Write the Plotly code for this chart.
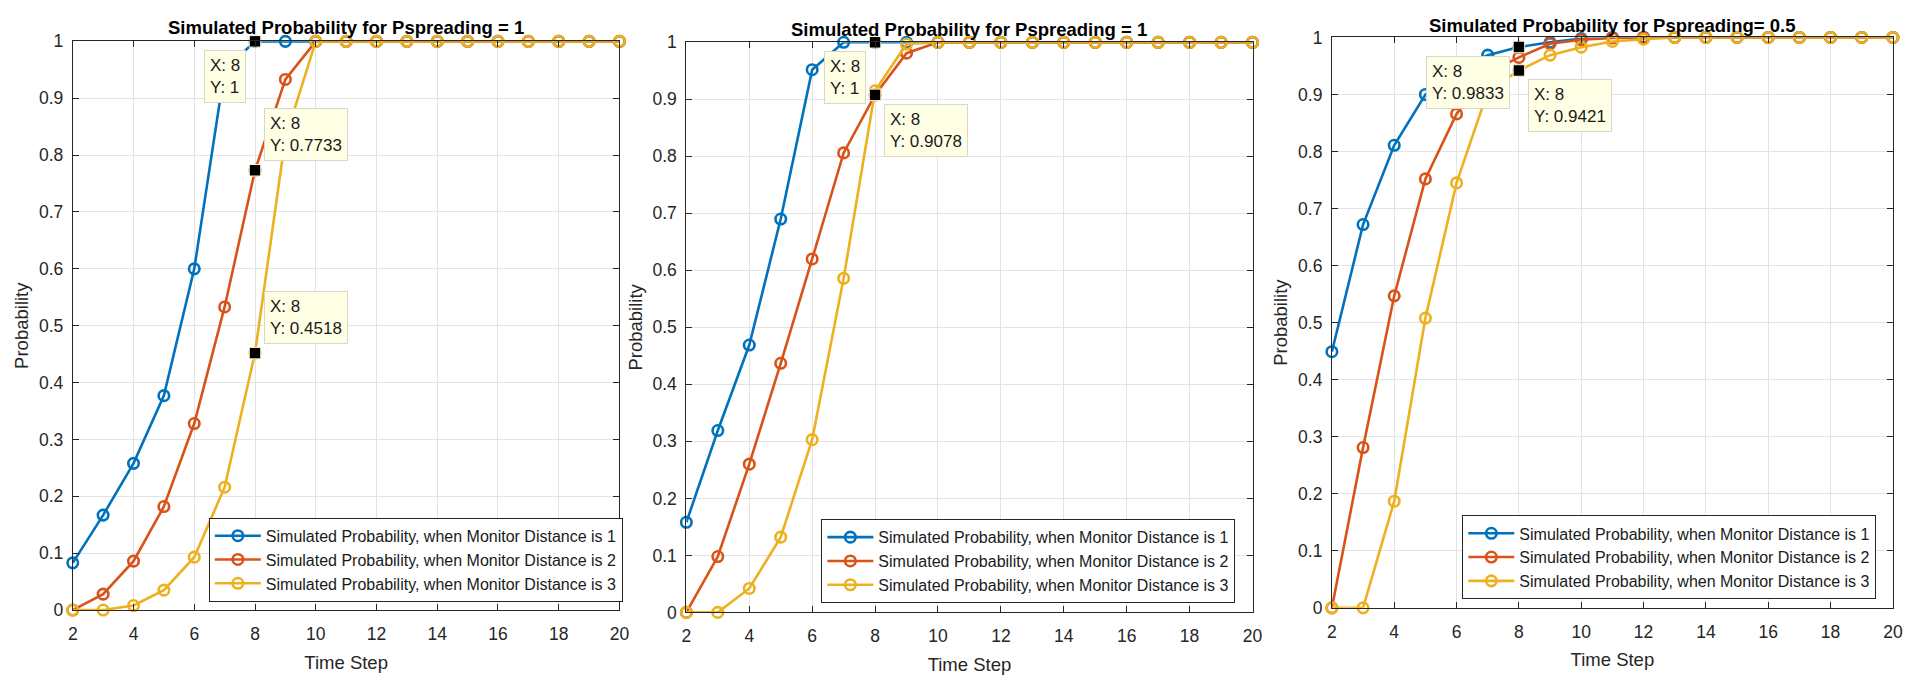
import plotly.graph_objects as go

# ---------------- data ----------------
x_steps = list(range(2, 21))
x_ticks = [2, 4, 6, 8, 10, 12, 14, 16, 18, 20]
y_ticks = [0, 0.1, 0.2, 0.3, 0.4, 0.5, 0.6, 0.7, 0.8, 0.9, 1.0]
y_tick_labels = ["0", "0.1", "0.2", "0.3", "0.4", "0.5", "0.6", "0.7", "0.8", "0.9", "1"]

series_names = [
    "Simulated Probability, when Monitor Distance is 1",
    "Simulated Probability, when Monitor Distance is 2",
    "Simulated Probability, when Monitor Distance is 3",
]

p1_d1 = [0.083, 0.167, 0.258, 0.377, 0.600, 0.950, 1.0] + [1.0] * 12
p1_d2 = [0.0, 0.028, 0.086, 0.182, 0.328, 0.533, 0.7733, 0.933] + [1.0] * 11
p1_d3 = [0.0, 0.0, 0.008, 0.035, 0.093, 0.216, 0.4518, 0.83] + [1.0] * 11

p2_d1 = [0.158, 0.319, 0.469, 0.690, 0.952, 1.0] + [1.0] * 13
p2_d2 = [0.0, 0.098, 0.260, 0.437, 0.620, 0.806, 0.9078, 0.981] + [1.0] * 11
p2_d3 = [0.0, 0.0, 0.042, 0.132, 0.303, 0.586, 0.915, 0.997] + [1.0] * 11

p3_d1 = [0.449, 0.672, 0.811, 0.900, 0.945, 0.969, 0.9833, 0.9915, 0.998] + [1.0] * 10
p3_d2 = [0.0, 0.281, 0.547, 0.752, 0.866, 0.938, 0.965, 0.989, 0.996, 0.999] + [1.0] * 9
p3_d3 = [0.0, 0.0, 0.187, 0.508, 0.745, 0.905, 0.9421, 0.969, 0.983, 0.993, 0.997] + [1.0] * 8

titles = [
    "Simulated Probability for Pspreading = 1",
    "Simulated Probability for Pspreading = 1",
    "Simulated Probability for Pspreading= 0.5",
]
panels = [[p1_d1, p1_d2, p1_d3], [p2_d1, p2_d2, p2_d3], [p3_d1, p3_d2, p3_d3]]

# data tips: (series index, x value, placement)
tips = [
    [(0, 8, "ll"), (1, 8, "ur"), (2, 8, "ur")],
    [(0, 8, "ll"), (1, 8, "lr")],
    [(0, 8, "ll"), (2, 8, "lr")],
]

# ---------------- styling / layout ----------------
W, H = 1928, 678
colors = ["#0072BD", "#D95319", "#EDB120"]
FONT = "Liberation Sans, Arial, Helvetica, sans-serif"
AX = "#262626"

# plot areas in pixels: (left, right, top, bottom)
boxes = [(68.3, 619.3, 32.3, 618.3), (686.7, 1257.3, 33.3, 620.7), (1337.3, 1902.7, 28.3, 616.0)]
title_y = [18.3, 20.0, 15.5]
# legend (right edge px, vertical centre px)
legend_pos = [(622.7, 566.5), (1240.0, 568.0), (1886.0, 564.0)]

fig = go.Figure()

for i, (data, box) in enumerate(zip(panels, boxes)):
    k = "" if i == 0 else str(i + 1)
    xa, ya = "x" + k, "y" + k
    lg = "legend" + k
    for j, ys in enumerate(data):
        fig.add_trace(go.Scatter(
            x=x_steps, y=ys, mode="lines+markers", name=series_names[j],
            xaxis=xa, yaxis=ya, legend=lg, cliponaxis=False,
            line=dict(color=colors[j], width=2.6),
            marker=dict(symbol="circle-open", size=10.5, color=colors[j], line=dict(width=2.6)),
        ))
    # data tip squares
    tx, ty = [], []
    for (s, xv, place) in tips[i]:
        yv = data[s][x_steps.index(xv)]
        tx.append(xv)
        ty.append(yv)
        if place == "ll":
            xanchor, yanchor, xs, ysh = "right", "top", -9, -9
        elif place == "lr":
            xanchor, yanchor, xs, ysh = "left", "top", 9, -9
        else:
            xanchor, yanchor, xs, ysh = "left", "bottom", 9, 9
        fig.add_annotation(
            x=xv, y=yv, xref=xa, yref=ya, showarrow=False,
            text="X: %g<br>Y: %.4g" % (xv, yv), align="left",
            xanchor=xanchor, yanchor=yanchor, xshift=xs, yshift=ysh,
            bgcolor="#FFFFE6", bordercolor="#D8D8C8", borderwidth=1, borderpad=5,
            font=dict(family=FONT, size=17, color="#1a1a1a"),
        )
    fig.add_trace(go.Scatter(
        x=tx, y=ty, mode="markers", xaxis=xa, yaxis=ya, showlegend=False,
        cliponaxis=False, hoverinfo="skip",
        marker=dict(symbol="square", size=11.5, color="black", line=dict(color="#FFFFE6", width=1)),
    ))

    l, r, t, b = box
    common = dict(
        showline=True, linecolor=AX, linewidth=1, mirror="ticks",
        ticks="inside", ticklen=6, tickcolor=AX, tickwidth=1,
        showgrid=True, gridcolor="#E3E3E3", gridwidth=1, zeroline=False,
        tickfont=dict(family=FONT, size=17.5, color=AX),
    )
    fig.layout["xaxis" + k] = dict(
        domain=[l / W, r / W], anchor=ya, range=[2, 20],
        tickvals=x_ticks, ticktext=[str(v) for v in x_ticks],
        title=dict(text="Time Step", font=dict(family=FONT, size=18.5, color=AX), standoff=12),
        ticklabelstandoff=8, **common,
    )
    fig.layout["yaxis" + k] = dict(
        domain=[1 - b / H, 1 - t / H], anchor=xa, range=[0, 1],
        tickvals=y_ticks, ticktext=y_tick_labels,
        title=dict(text="Probability", font=dict(family=FONT, size=18.5, color=AX), standoff=5),
        ticklabelstandoff=5, **common,
    )
    fig.add_annotation(
        x=(l + r) / 2 / W, y=1 - title_y[i] / H, xref="paper", yref="paper",
        text="<b>%s</b>" % titles[i], showarrow=False, xanchor="center", yanchor="middle",
        font=dict(family=FONT, size=18.5, color="#000000"),
    )
    lx, lyc = legend_pos[i]
    fig.layout[lg] = dict(
        x=lx / W, y=1 - lyc / H, xanchor="right", yanchor="middle",
        xref="paper", yref="paper",
        bgcolor="white", bordercolor=AX, borderwidth=1,
        font=dict(family=FONT, size=16, color="#1a1a1a"),
        tracegroupgap=0, itemwidth=46,
    )

fig.update_layout(
    width=W, height=H, margin=dict(l=0, r=0, t=0, b=0),
    paper_bgcolor="white", plot_bgcolor="white", showlegend=True,
)

fig.write_html("out.html", config={"displayModeBar": False},
               post_script="document.body.style.margin='0';")
